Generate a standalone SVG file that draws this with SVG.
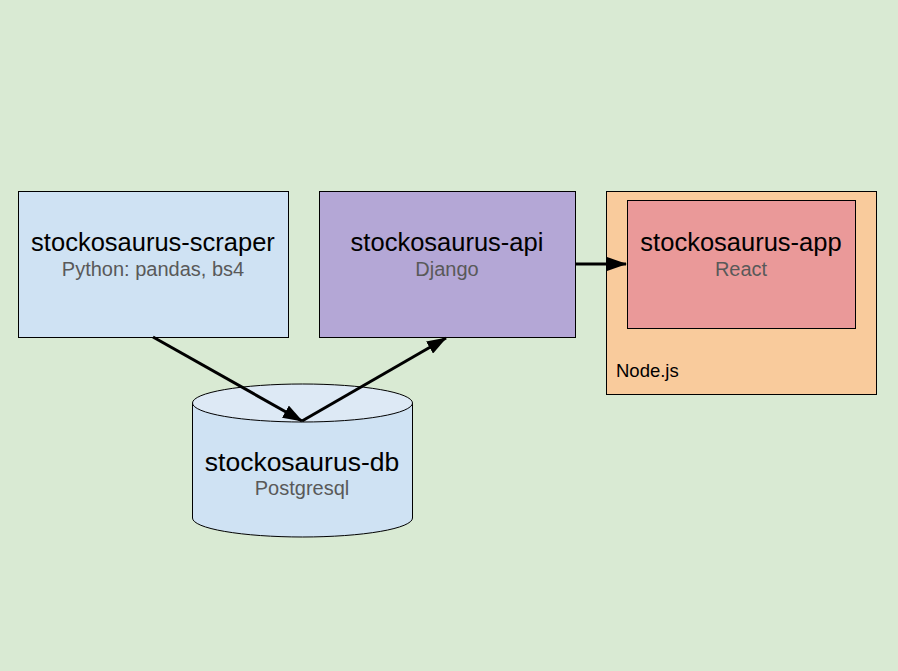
<svg xmlns="http://www.w3.org/2000/svg" width="898" height="671" viewBox="0 0 898 671">
<style>
.box{stroke:#000;stroke-width:1}
.t{font-family:"Liberation Sans",Arial,sans-serif;font-size:25.5px;fill:#000;text-anchor:middle}
.s{font-family:"Liberation Sans",Arial,sans-serif;font-size:20px;fill:#595959;text-anchor:middle}
.c{stroke:#000;stroke-width:3;fill:none}
</style>
<defs>
<marker id="ah" viewBox="0 0 20 14" refX="19" refY="7" markerWidth="20" markerHeight="14" orient="auto" markerUnits="userSpaceOnUse">
<path d="M0,0 L20,7 L0,14 z" fill="#000"/>
</marker>
</defs>
<rect width="898" height="671" fill="#d9ead3"/>
<g id="scraper">
<rect class="box" x="18.5" y="191.5" width="270" height="146" fill="#cfe2f3"/>
<text class="t" x="153" y="251">stockosaurus-scraper</text>
<text class="s" x="153" y="276">Python: pandas, bs4</text>
</g>
<g id="api">
<rect class="box" x="319.5" y="191.5" width="256" height="146" fill="#b4a7d6"/>
<text class="t" x="447" y="251">stockosaurus-api</text>
<text class="s" x="447" y="276">Django</text>
</g>
<g id="nodejs">
<rect class="box" x="606.5" y="191.5" width="270" height="203" fill="#f9cb9c"/>
<text x="616" y="377" font-family="Liberation Sans,Arial,sans-serif" font-size="18.5" fill="#000">Node.js</text>
</g>
<g id="app">
<rect class="box" x="627.5" y="200.5" width="228" height="128" fill="#ea9999"/>
<text class="t" x="741" y="251">stockosaurus-app</text>
<text class="s" x="741" y="276">React</text>
</g>
<g id="db">
<path class="box" d="M192.5,403 L192.5,518 A110,19 0 0 0 412.5,518 L412.5,403" fill="#cfe2f3"/>
<ellipse class="box" cx="302.5" cy="403" rx="110" ry="19" fill="#dde9f5"/>
<text class="t" x="302" y="471" style="font-size:26.5px">stockosaurus-db</text>
<text class="s" x="302" y="495">Postgresql</text>
</g>
<g id="connectors">
<line class="c" x1="153" y1="337" x2="302" y2="421" marker-end="url(#ah)"/>
<line class="c" x1="302" y1="421" x2="446" y2="338" marker-end="url(#ah)"/>
<line class="c" x1="576" y1="264" x2="626" y2="264" marker-end="url(#ah)"/>
</g>
</svg>
